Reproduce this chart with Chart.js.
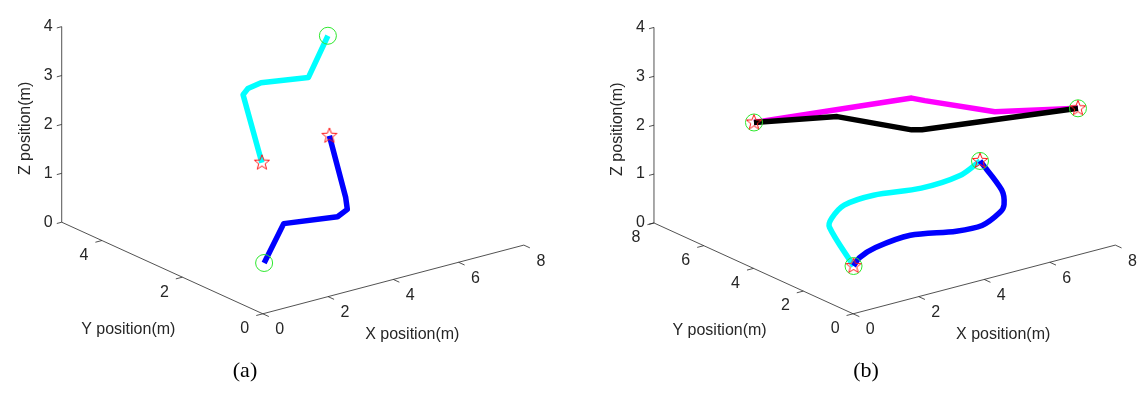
<!DOCTYPE html>
<html>
<head>
<meta charset="utf-8">
<script src="https://cdn.jsdelivr.net/npm/chart.js@4.4.0/dist/chart.umd.min.js"></script>
<style>
  body { margin: 0; background: #fff; width: 1143px; height: 412px; overflow: hidden; position: relative; }
  canvas { position: absolute; top: 0; }
</style>
</head>
<body>
<canvas id="chartA" width="572" height="412" style="left:0px"></canvas>
<canvas id="chartB" width="572" height="412" style="left:571px"></canvas>
<script>
// axis limits and ticks
var xLim = [0, 8];
var zLim = [0, 4];
var xTickVals = [0, 2, 4, 6, 8];
var yTickValsA = [0, 2, 4];
var yTickValsB = [0, 2, 4, 6, 8];
var zTickVals = [0, 1, 2, 3, 4];

// (a) two agents
var aCyanX = [5.2, 4.6, 3.15, 2.75, 2.6, 3.3];
var aCyanY = [2.6, 2.6, 2.6, 2.6, 2.6, 2.7];
var aCyanZ = [3.8, 3.05, 3.2, 3.15, 3.05, 1.5];

var aBlueX = [1.15, 1.75, 3.4, 3.7, 3.65, 3.15];
var aBlueY = [0.9, 0.9, 0.9, 0.9, 0.9, 0.9];
var aBlueZ = [0.5, 1.2, 1.05, 1.15, 1.4, 2.75];

// (b) four agents swapping positions
var bMagX = [1.95, 4.9, 5.15, 6.45, 8.0];
var bMagY = [6.55, 4.1, 3.9, 2.8, 1.5];
var bMagZ = [2.05, 2.6, 2.55, 2.35, 2.45];

var bBlkX = [8.0, 5.1, 4.9, 3.5, 1.95];
var bBlkY = [1.5, 3.95, 4.1, 5.25, 6.55];
var bBlkZ = [2.45, 1.95, 1.95, 2.2, 2.05];

var bCyanX = [6.15, 5.35, 3.75, 1.8, 0.6, 0.1, 0.0, 1.0];
var bCyanY = [3.0, 2.75, 2.2, 1.55, 1.15, 1.0, 0.95, 1.3];
var bCyanZ = [1.35, 1.25, 1.4, 1.75, 1.85, 1.7, 1.55, 0.5];

var bBlueX = [1.0, 1.25, 1.9, 3.3, 5.2, 6.25, 6.95, 7.15, 7.0, 6.15];
var bBlueY = [1.3, 1.4, 1.6, 2.05, 2.7, 3.05, 3.25, 3.35, 3.25, 3.0];
var bBlueZ = [0.5, 0.6, 0.65, 0.55, 0.15, 0.0, 0.1, 0.2, 0.55, 1.35];

// view of each panel (origin + screen direction of one unit along x, y, z)
var panelA = { o: [262, 319], ux: [33.75, -9], uy: [-41.6, -19.2], uz: [0, -51.25],
  yMax: 5, yTicks: yTickValsA, xTickLen: 0.15, yTickLen: 0.2, zTickLen: 0.15, caption: '(a)', capX: 245 };
var panelB = { o: [282, 319], ux: [33.9, -9], uy: [-25.75, -11.9], uz: [0, -51.25],
  yMax: 8, yTicks: yTickValsB, xTickLen: 0.25, yTickLen: 0.2, zTickLen: 0.15, caption: '(b)', capX: 295 };

function proj(p, x, y, z) {
  return { x: p.o[0] + x * p.ux[0] + y * p.uy[0] + z * p.uz[0],
           y: p.o[1] + x * p.ux[1] + y * p.uy[1] + z * p.uz[1] };
}

function starImg(r) {
  var c = document.createElement('canvas');
  c.width = c.height = 2 * r + 4;
  var g = c.getContext('2d');
  g.strokeStyle = '#ff1a1a';
  g.lineWidth = 1;
  g.beginPath();
  for (var i = 0; i < 10; i++) {
    var a = -Math.PI / 2 + i * Math.PI / 5;
    var rr = (i % 2) ? r * 0.42 : r;
    var px = r + 2 + rr * Math.cos(a), py = r + 2 + rr * Math.sin(a);
    if (i == 0) g.moveTo(px, py); else g.lineTo(px, py);
  }
  g.closePath();
  g.stroke();
  return c;
}
var star = starImg(8);

function makeChart(id, p, series) {
  var datasets = [];
  var axisColor = '#262626';
  function seg(a, b) {
    datasets.push({ data: [proj(p, a[0], a[1], a[2]), proj(p, b[0], b[1], b[2])], showLine: true,
      borderColor: axisColor, borderWidth: 0.8, pointRadius: 0, pointHoverRadius: 0, order: 20 });
  }
  seg([0, 0, 0], [xLim[1], 0, 0]);
  seg([0, 0, 0], [0, p.yMax, 0]);
  seg([0, p.yMax, zLim[0]], [0, p.yMax, zLim[1]]);
  xTickVals.forEach(function (v) { seg([v, 0, 0], [v, -p.xTickLen, 0]); });
  p.yTicks.forEach(function (v) { seg([0, v, 0], [-p.yTickLen, v, 0]); });
  zTickVals.forEach(function (v) { seg([0, p.yMax, v], [-p.zTickLen, p.yMax, v]); });

  var starts = [], ends = [];
  series.forEach(function (s, k) {
    var pts = [];
    for (var i = 0; i < s.xs.length; i++) pts.push(proj(p, s.xs[i], s.ys[i], s.zs[i]));
    datasets.push({ data: pts, showLine: true, borderColor: s.color, borderWidth: 5.5,
      borderJoinStyle: 'round', borderCapStyle: 'butt', tension: s.smooth || 0,
      pointRadius: 0, pointHoverRadius: 0, order: 2 + k });
    starts.push(pts[0]);
    ends.push(pts[pts.length - 1]);
  });
  datasets.push({ data: starts, showLine: false, pointStyle: 'circle', pointRadius: 8.5,
    pointBorderColor: '#2ee82e', pointBackgroundColor: 'rgba(0,0,0,0)', pointBorderWidth: 1, order: 1 });
  datasets.push({ data: ends, showLine: false, pointStyle: star, pointRadius: 8, order: 0 });

  var labels3d = {
    id: 'labels3d',
    afterDraw: function (chart) {
      var ctx = chart.ctx, sx = chart.scales.x, sy = chart.scales.y;
      function pix(x, y, z) { var q = proj(p, x, y, z); return [sx.getPixelForValue(q.x), sy.getPixelForValue(q.y)]; }
      ctx.save();
      ctx.fillStyle = '#262626';
      ctx.font = '16px "Liberation Sans", Arial, sans-serif';
      ctx.textBaseline = 'middle';
      ctx.textAlign = 'center';
      xTickVals.forEach(function (v) { var q = pix(v, 0, 0); ctx.fillText(String(v), q[0] + 17, q[1] + 16); });
      p.yTicks.forEach(function (v) { var q = pix(0, v, 0); ctx.fillText(String(v), q[0] - 18, q[1] + 15); });
      ctx.textAlign = 'right';
      zTickVals.forEach(function (v) { var q = pix(0, p.yMax, v); ctx.fillText(String(v), q[0] - 9, q[1]); });
      ctx.textAlign = 'center';
      var qx = pix(xLim[1] / 2, 0, 0);
      ctx.fillText('X position(m)', qx[0] + 19, qx[1] + 55);
      var qy = pix(0, p.yMax / 2, 0);
      ctx.fillText('Y position(m)', qy[0] - 34, qy[1] + 62);
      var qz = pix(0, p.yMax, zLim[1] / 2);
      ctx.save();
      ctx.translate(qz[0] - 36, qz[1] + 4);
      ctx.rotate(-Math.PI / 2);
      ctx.fillText('Z position(m)', 0, 0);
      ctx.restore();
      ctx.fillStyle = '#000';
      ctx.font = '22px "Liberation Serif", "Times New Roman", serif';
      ctx.fillText(p.caption, p.capX, 371);
      ctx.restore();
    }
  };

  return new Chart(document.getElementById(id), {
    type: 'scatter',
    data: { datasets: datasets },
    options: {
      responsive: false,
      animation: false,
      events: [],
      layout: { padding: 0 },
      clip: false,
      plugins: { legend: { display: false }, tooltip: { enabled: false } },
      scales: {
        x: { type: 'linear', min: 0, max: 572, display: false },
        y: { type: 'linear', min: 0, max: 412, reverse: true, display: false }
      }
    },
    plugins: [labels3d]
  });
}

makeChart('chartA', panelA, [
  { color: '#00ffff', xs: aCyanX, ys: aCyanY, zs: aCyanZ },
  { color: '#0000ff', xs: aBlueX, ys: aBlueY, zs: aBlueZ }
]);
makeChart('chartB', panelB, [
  { color: '#000000', xs: bBlkX, ys: bBlkY, zs: bBlkZ },
  { color: '#ff00ff', xs: bMagX, ys: bMagY, zs: bMagZ },
  { color: '#0000ff', xs: bBlueX, ys: bBlueY, zs: bBlueZ, smooth: 0.3 },
  { color: '#00ffff', xs: bCyanX, ys: bCyanY, zs: bCyanZ, smooth: 0.3 }
]);
</script>
</body>
</html>
